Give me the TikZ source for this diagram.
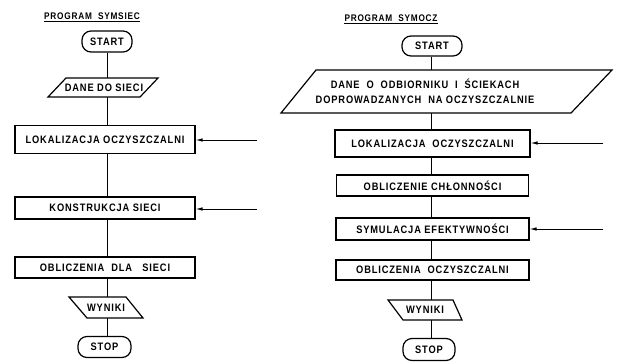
\documentclass[tikz,border=0pt]{standalone}
\usepackage{fontspec}
\setmainfont{Liberation Sans}[LetterSpace=8, FakeStretch=0.86]
\usetikzlibrary{arrows.meta}
\newcommand\parashape[5]{\draw[outline,shift={(#1.center)}] #2 -- #3 -- #4 -- #5 -- cycle;}
\begin{document}
\begin{tikzpicture}[x=1pt,y=-1pt,
  txt/.style={font=\fontsize{10.8}{12}\selectfont\bfseries, inner sep=0pt},
  outline/.style={line width=1.2pt, line join=miter},
  procbox/.style={txt, draw, line width=1.2pt},
  termbox/.style={txt, draw, line width=1.2pt, rounded corners=9pt},
  iobox/.style={txt},
  titletxt/.style={font=\fontsize{9.6}{10}\selectfont\bfseries, inner sep=0pt, anchor=base},
  conn/.style={line width=1pt},
  inarrow/.style={line width=0.9pt, -{Latex[length=7pt,width=3.5pt]}}]
\useasboundingbox (0,0) rectangle (618,362);
% ---------- left: SYMSIEC ----------
\coordinate (ax1) at (107,0);
\node[titletxt] (title1) at (92,19) {PROGRAM\ \ SYMSIEC};
\draw[line width=0.8pt] ([yshift=-2.5pt]title1.base west) -- ([yshift=-2.5pt]title1.base east);
\node[termbox, minimum width=50pt, minimum height=21pt] (start1) at (107,41.5) {START};
\node[iobox, minimum width=92pt, minimum height=19pt] (dane1) at (104,87.5) {DANE DO SIECI};
\parashape{dane1}{(-38,-9.5)}{(54,-9.5)}{(36,9.5)}{(-56,9.5)}
\node[procbox, minimum width=180pt, minimum height=28pt] (lok1) at (105,139.5) {LOKALIZACJA OCZYSZCZALNI};
\node[procbox, minimum width=180pt, minimum height=22pt] (kon1) at (105,208) {KONSTRUKCJA SIECI};
\node[procbox, minimum width=180pt, minimum height=21pt] (obl1) at (105,267.5) {OBLICZENIA\ \ DLA\ \ \ SIECI};
\node[iobox, minimum width=58pt, minimum height=21pt] (wyn1) at (106,307.5) {WYNIKI};
\parashape{wyn1}{(-37,-10.5)}{(20,-10.5)}{(37,10.5)}{(-19,10.5)}
\node[termbox, minimum width=53pt, minimum height=21pt] (stop1) at (104.5,347) {STOP};
\draw[conn] (start1.south -| ax1) -- (dane1.north -| ax1);
\draw[conn] (dane1.south -| ax1) -- (lok1.north -| ax1);
\draw[conn] (lok1.south -| ax1) -- (kon1.north -| ax1);
\draw[conn] (kon1.south -| ax1) -- (obl1.north -| ax1);
\draw[conn] (obl1.south -| ax1) -- (wyn1.north -| ax1);
\draw[conn] (wyn1.south -| ax1) -- (stop1.north -| ax1);
\coordinate (a1) at (257,140);
\coordinate (a2) at (257,209);
\draw[inarrow] (a1) -- (a1 -| lok1.east);
\draw[inarrow] (a2) -- (a2 -| kon1.east);
% ---------- right: SYMOCZ ----------
\coordinate (ax2) at (431,0);
\node[titletxt] (title2) at (391,21) {PROGRAM\ \ SYMOCZ};
\draw[line width=0.8pt] ([yshift=-2.5pt]title2.base west) -- ([yshift=-2.5pt]title2.base east);
\node[termbox, minimum width=60pt, minimum height=20pt] (start2) at (432,46) {START};
\node[iobox, minimum height=43pt, align=center] (dane2) at (425,91.5) {DANE\ \ O\ \ ODBIORNIKU\ \ I\ \ ŚCIEKACH\\[3pt]DOPROWADZANYCH\ \ NA\ OCZYSZCZALNIE};
\parashape{dane2}{(-109,-21.5)}{(187,-21.5)}{(146,21.5)}{(-144,21.5)}
\node[procbox, minimum width=195pt, minimum height=27pt] (lok2) at (432.5,143.5) {LOKALIZACJA\ \ OCZYSZCZALNI};
\node[procbox, minimum width=192pt, minimum height=21pt] (chl2) at (432.5,185.5) {OBLICZENIE CHŁONNOŚCI};
\node[procbox, minimum width=193pt, minimum height=22pt] (sym2) at (432.5,229) {SYMULACJA EFEKTYWNOŚCI};
\node[procbox, minimum width=193pt, minimum height=20pt] (obo2) at (432.5,270) {OBLICZENIA\ \ OCZYSZCZALNI};
\node[iobox, minimum width=62pt, minimum height=20pt] (wyn2) at (425,310) {WYNIKI};
\parashape{wyn2}{(-37,-10)}{(28,-10)}{(37,10)}{(-22,10)}
\node[termbox, minimum width=52pt, minimum height=22pt] (stop2) at (429,349.5) {STOP};
\draw[conn] (start2.south -| ax2) -- (dane2.north -| ax2);
\draw[conn] (dane2.south -| ax2) -- (lok2.north -| ax2);
\draw[conn] (lok2.south -| ax2) -- (chl2.north -| ax2);
\draw[conn] (chl2.south -| ax2) -- (sym2.north -| ax2);
\draw[conn] (sym2.south -| ax2) -- (obo2.north -| ax2);
\draw[conn] (obo2.south -| ax2) -- (wyn2.north -| ax2);
\draw[conn] (wyn2.south -| ax2) -- (stop2.north -| ax2);
\coordinate (a3) at (603,143);
\coordinate (a4) at (603,229);
\draw[inarrow] (a3) -- (a3 -| lok2.east);
\draw[inarrow] (a4) -- (a4 -| sym2.east);
\end{tikzpicture}
\end{document}
